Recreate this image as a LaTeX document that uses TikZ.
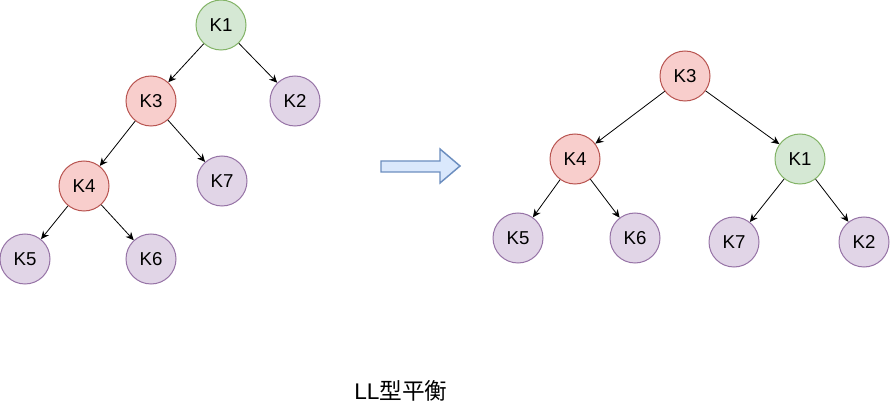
\documentclass[tikz,border=0pt]{standalone}
\usepackage{fontspec}
\setmainfont{Liberation Sans}
\newfontfamily\cjk{Noto Sans CJK SC}
\usetikzlibrary{arrows.meta,positioning}
\definecolor{grnfill}{HTML}{D5E8D4}
\definecolor{grnline}{HTML}{82B366}
\definecolor{redfill}{HTML}{F8CECC}
\definecolor{redline}{HTML}{B85450}
\definecolor{prpfill}{HTML}{E1D5E7}
\definecolor{prpline}{HTML}{9673A6}
\definecolor{blufill}{HTML}{DAE8FC}
\definecolor{bluline}{HTML}{6C8EBF}

\begin{document}
\begin{tikzpicture}[x=0.75pt, y=-0.75pt,
        every node/.style={font=\fontsize{14}{16}\selectfont},
        key/.style={circle, draw, line width=0.75pt, minimum size=37.5pt, inner sep=0pt},
        grnkey/.style={key, fill=grnfill, draw=grnline},
        redkey/.style={key, fill=redfill, draw=redline},
        prpkey/.style={key, fill=prpfill, draw=prpline},
        link/.style={-{Stealth[length=6pt, width=5.5pt]}, line width=0.6pt}]
        \useasboundingbox (0,0) rectangle (890,417);
        % before: left tree
        \node[grnkey] (lk1) at (221,25) {K1};
        \node[redkey] (lk3) at (151,101) {K3};
        \node[prpkey] (lk2) at (295,101) {K2};
        \node[redkey] (lk4) at (84,186) {K4};
        \node[prpkey] (lk7) at (222,181) {K7};
        \node[prpkey] (lk5) at (25,259) {K5};
        \node[prpkey] (lk6) at (151,259) {K6};
        \draw[link] (lk1) -- (lk3);
        \draw[link] (lk1) -- (lk2);
        \draw[link] (lk3) -- (lk4);
        \draw[link] (lk3) -- (lk7);
        \draw[link] (lk4) -- (lk5);
        \draw[link] (lk4) -- (lk6);
        % after: right tree
        \node[redkey] (rk3) at (685,76) {K3};
        \node[redkey] (rk4) at (575,159) {K4};
        \node[grnkey] (rk1) at (800,159) {K1};
        \node[prpkey] (rk5) at (518,238) {K5};
        \node[prpkey] (rk6) at (635,238) {K6};
        \node[prpkey] (rk7) at (734,242) {K7};
        \node[prpkey] (rk2) at (864,242) {K2};
        \draw[link] (rk3) -- (rk4);
        \draw[link] (rk3) -- (rk1);
        \draw[link] (rk4) -- (rk5);
        \draw[link] (rk4) -- (rk6);
        \draw[link] (rk1) -- (rk7);
        \draw[link] (rk1) -- (rk2);
        % rotation arrow
        \draw[fill=blufill, draw=bluline, line width=1.1pt, line join=miter]
            (381,161) -- (440,161) -- (440,149) -- (460,166) -- (440,183) -- (440,172) -- (381,172) -- cycle;
        \node[font=\fontsize{17}{20}\selectfont] (caption) at (401,391) {LL{\cjk 型平衡}};
    \end{tikzpicture}
\end{document}
